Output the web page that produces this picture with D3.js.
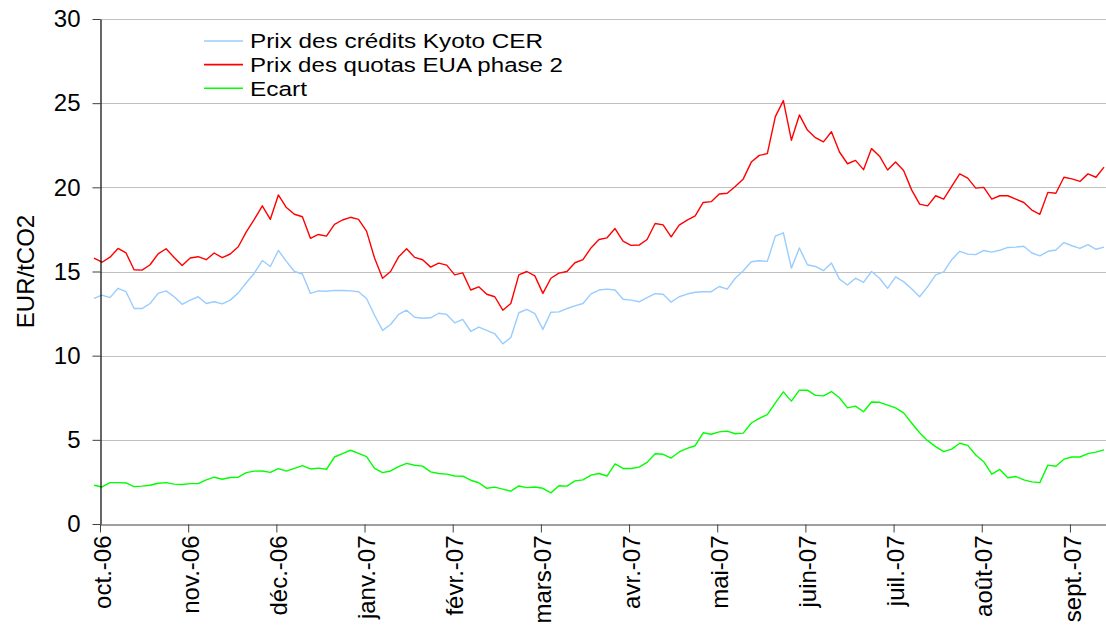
<!DOCTYPE html>
<html>
<head>
<meta charset="utf-8">
<script src="https://cdn.jsdelivr.net/npm/d3@7"></script>
<style>
  body { margin: 0; background: #fff; }
  svg { display: block; font-family: "Liberation Sans", Arial, sans-serif; }
</style>
</head>
<body>
<svg id="chart" width="1106" height="632"></svg>
<script>
// month labels, one tick every 22 trading days
const months = ["oct.-06", "nov.-06", "déc.-06", "janv.-07", "févr.-07", "mars-07",
                "avr.-07", "mai-07", "juin-07", "juil.-07", "août-07", "sept.-07"];
const yTicks = [0, 5, 10, 15, 20, 25, 30];

// prices read every 2 trading days, first value 1.5 days before the oct. tick
const cer = [13.4, 13.6, 13.45, 14.0, 13.8, 12.8, 12.8, 13.1, 13.7, 13.85, 13.5,
  13.05, 13.3, 13.5, 13.1, 13.2, 13.08, 13.3, 13.73, 14.33, 14.9, 15.65,
  15.3, 16.25, 15.6, 15.0, 14.85, 13.7, 13.85, 13.83, 13.88, 13.87, 13.85,
  13.8, 13.4, 12.4, 11.5, 11.85, 12.45, 12.7, 12.28, 12.22, 12.25, 12.52,
  12.45, 11.95, 12.15, 11.45, 11.7, 11.5, 11.3, 10.7, 11.08, 12.55, 12.75,
  12.5, 11.56, 12.58, 12.6, 12.8, 12.96, 13.1, 13.67, 13.9, 13.95, 13.9,
  13.35, 13.3, 13.2, 13.45, 13.68, 13.65, 13.18, 13.5, 13.66, 13.77, 13.8,
  13.8, 14.11, 13.95, 14.6, 15.05, 15.58, 15.64, 15.6, 17.1, 17.3, 15.2,
  16.4, 15.4, 15.3, 15.05, 15.5, 14.55, 14.2, 14.6, 14.35, 15.0, 14.6,
  14.0, 14.68, 14.4, 13.98, 13.5, 14.1, 14.8, 14.98, 15.7, 16.2, 16.03,
  16.0, 16.25, 16.15, 16.26, 16.43, 16.45, 16.5, 16.1, 15.93, 16.2, 16.28,
  16.72, 16.53, 16.37, 16.6, 16.32, 16.45];

const eua = [15.8, 15.55, 15.85, 16.37, 16.1, 15.1, 15.08, 15.4, 16.05, 16.35, 15.83,
  15.35, 15.8, 15.88, 15.7, 16.1, 15.82, 16.04, 16.47, 17.35, 18.1, 18.9,
  18.1, 19.55, 18.8, 18.4, 18.25, 16.97, 17.2, 17.1, 17.8, 18.06, 18.22,
  18.1, 17.4, 15.8, 14.6, 15.0, 15.87, 16.35, 15.84, 15.7, 15.26, 15.5,
  15.38, 14.8, 14.92, 13.9, 14.09, 13.65, 13.5, 12.7, 13.1, 14.8, 15.0,
  14.74, 13.7, 14.6, 14.9, 15.0, 15.52, 15.7, 16.4, 16.9, 17.0, 17.55,
  16.8, 16.55, 16.57, 16.9, 17.85, 17.77, 17.06, 17.75, 18.05, 18.3, 19.1,
  19.15, 19.6, 19.65, 20.05, 20.5, 21.5, 21.9, 22.0, 24.2, 25.15, 22.8,
  24.3, 23.4, 22.95, 22.7, 23.3, 22.1, 21.4, 21.6, 21.05, 22.3, 21.85,
  21.03, 21.5, 21.0, 19.85, 19.0, 18.9, 19.5, 19.3, 20.05, 20.8, 20.55,
  19.95, 20.0, 19.3, 19.5, 19.5, 19.3, 19.1, 18.65, 18.4, 19.7, 19.65,
  20.6, 20.5, 20.35, 20.8, 20.6, 21.2];

const ecart = [2.3, 2.2, 2.46, 2.46, 2.44, 2.22, 2.25, 2.3, 2.42, 2.46, 2.37,
  2.35, 2.4, 2.4, 2.62, 2.78, 2.66, 2.76, 2.78, 3.05, 3.14, 3.15,
  3.07, 3.29, 3.14, 3.3, 3.47, 3.27, 3.32, 3.25, 3.98, 4.18, 4.38,
  4.2, 4.0, 3.3, 3.05, 3.15, 3.41, 3.6, 3.49, 3.44, 3.1, 3.0,
  2.96, 2.85, 2.84, 2.6, 2.45, 2.12, 2.19, 2.07, 1.95, 2.26, 2.16,
  2.2, 2.12, 1.85, 2.27, 2.25, 2.56, 2.62, 2.9, 3.0, 2.85, 3.57,
  3.3, 3.3, 3.38, 3.66, 4.17, 4.14, 3.92, 4.28, 4.49, 4.65, 5.42,
  5.33, 5.47, 5.52, 5.36, 5.4, 6.0, 6.28, 6.5, 7.2, 7.85, 7.3,
  7.95, 7.95, 7.64, 7.61, 7.87, 7.5, 6.9, 7.0, 6.67, 7.25, 7.23,
  7.06, 6.9, 6.6, 6.0, 5.42, 4.95, 4.6, 4.3, 4.45, 4.8, 4.67,
  4.1, 3.7, 2.96, 3.24, 2.75, 2.82, 2.62, 2.5, 2.46, 3.5, 3.43,
  3.85, 3.98, 3.98, 4.18, 4.27, 4.4];

const firstDay = -1.5, step = 2;
const days = eua.map((d, i) => firstDay + i * step);

const series = [
  {name: "Prix des crédits Kyoto CER", values: cer, color: "#99ccff", width: 293},
  {name: "Prix des quotas EUA phase 2", values: eua, color: "#ff0000", width: 313},
  {name: "Ecart", values: ecart, color: "#00ff00", width: 57}
];

const svg = d3.select("#chart");
const plotLeft = 100, plotRight = 1106, plotTop = 19, plotBottom = 524;

const x = d3.scaleLinear().domain([0, 251]).range([plotLeft, plotRight]);
const y = d3.scaleLinear().domain([0, 30]).range([plotBottom, plotTop]);

// gridlines
svg.append("g")
  .selectAll("line")
  .data(yTicks.filter(d => d > 0))
  .enter()
  .append("line")
  .attr("x1", plotLeft).attr("x2", plotRight)
  .attr("y1", d => Math.round(y(d)) + 0.5)
  .attr("y2", d => Math.round(y(d)) + 0.5)
  .attr("stroke", "#c0c0c0")
  .attr("stroke-width", 1);

// lines
const line = d3.line()
  .x((d, i) => x(days[i]))
  .y(d => y(d));

svg.append("g")
  .selectAll("path")
  .data(series)
  .enter()
  .append("path")
  .attr("fill", "none")
  .attr("stroke", d => d.color)
  .attr("stroke-width", 1.4)
  .attr("stroke-linejoin", "round")
  .attr("d", d => line(d.values));

// x axis
const xAxis = d3.axisBottom(x)
  .tickValues(months.map((m, i) => i * 22))
  .tickFormat((d, i) => months[i])
  .tickSize(8)
  .tickSizeOuter(0);

const gx = svg.append("g")
  .attr("transform", `translate(0, ${plotBottom + 0.5})`)
  .call(xAxis);
gx.select(".domain").attr("stroke", "#404040").attr("stroke-width", 1.2);
gx.selectAll(".tick line").attr("stroke", "#404040");
gx.selectAll("text")
  .attr("font-size", 24)
  .attr("font-family", "Liberation Sans, Arial, sans-serif")
  .attr("fill", "#000")
  .attr("transform", "rotate(-90)")
  .attr("text-anchor", "end")
  .attr("x", -11)
  .attr("y", 0)
  .attr("dy", "0.42em");

// y axis
const yAxis = d3.axisLeft(y)
  .tickValues(yTicks)
  .tickSize(8)
  .tickPadding(12)
  .tickSizeOuter(0);

const gy = svg.append("g")
  .attr("transform", `translate(${plotLeft + 0.5}, 0)`)
  .call(yAxis);
gy.select(".domain").attr("stroke", "#000").attr("stroke-width", 1.2);
gy.selectAll(".tick line").attr("stroke", "#404040");
gy.selectAll("text")
  .attr("font-size", 24)
  .attr("font-family", "Liberation Sans, Arial, sans-serif")
  .attr("fill", "#000");

// y title
svg.append("text")
  .attr("transform", `translate(34, ${(plotTop + plotBottom) / 2}) rotate(-90)`)
  .attr("text-anchor", "middle")
  .attr("font-size", 24)
  .attr("fill", "#000")
  .text("EUR/tCO2");

// legend
const legend = svg.append("g").attr("transform", "translate(204, 41)");
const item = legend.selectAll("g")
  .data(series)
  .enter()
  .append("g")
  .attr("transform", (d, i) => `translate(0, ${i * 23.6})`);
item.append("line")
  .attr("x1", 0).attr("x2", 39)
  .attr("stroke", d => d.color)
  .attr("stroke-width", 1.6);
item.append("text")
  .attr("x", 46)
  .attr("dy", "0.36em")
  .attr("font-size", 20.5)
  .attr("textLength", d => d.width)
  .attr("lengthAdjust", "spacingAndGlyphs")
  .attr("fill", "#000")
  .text(d => d.name);
</script>
</body>
</html>
